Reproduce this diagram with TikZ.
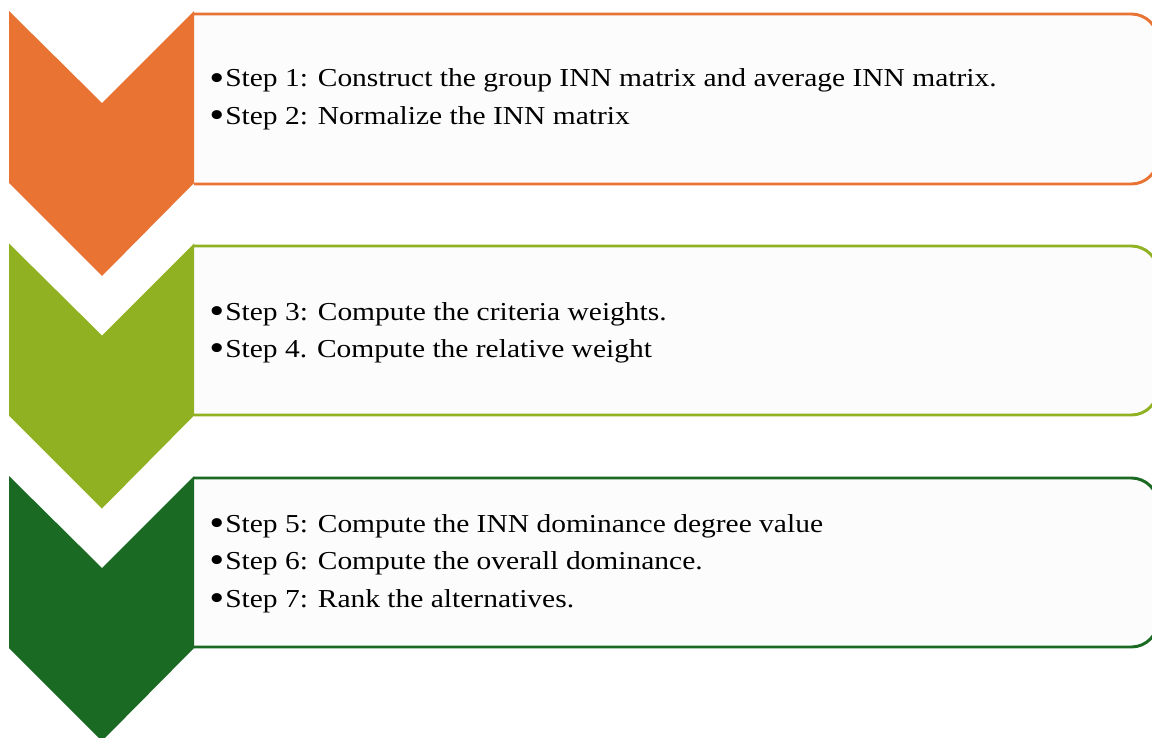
\documentclass[tikz,border=0pt]{standalone}
\usepackage{fontspec}
\setmainfont{Liberation Serif}[FakeStretch=1.14]
\definecolor{cOrange}{RGB}{233,115,51}
\definecolor{cLime}{RGB}{143,177,34}
\definecolor{cDark}{RGB}{27,106,36}
\definecolor{cFill}{RGB}{252,252,252}
\tikzset{
  stepbox/.style={fill=cFill, line width=2.2pt, rounded corners=20pt},
  steptext/.style={anchor=base west, inner sep=0pt, font=\fontsize{19.4}{22}\selectfont, text=black}
}
\newcommand{\bul}{\makebox[12pt][l]{\raisebox{-2.6pt}{\scalebox{1.45}{\textbullet}}}}
\newcommand{\chevron}[2]{% #1 offset, #2 colour
  \fill[#2] (9,11+#1) -- (102,103+#1) -- (194,11+#1) -- (194,183+#1) -- (102,276+#1) -- (9,183+#1) -- cycle;
}
\begin{document}
\begin{tikzpicture}[x=0.75pt,y=-0.75pt]
\useasboundingbox (0,0) rectangle (1152,738);
\clip (0,0) rectangle (1152,738);
\fill[white] (0,0) rectangle (1152,738);
% boxes
\filldraw[stepbox, draw=cOrange] (194,14) -- (1158,14) -- (1158,184) -- (194,184);
\filldraw[stepbox, draw=cLime] (194,246) -- (1158,246) -- (1158,415) -- (194,415);
\filldraw[stepbox, draw=cDark] (194,478) -- (1158,478) -- (1158,647) -- (194,647);
% chevrons
\chevron{0}{cOrange}
\chevron{232.5}{cLime}
\chevron{465}{cDark}
% texts
\node[steptext] (s1) at (209,87) {\bul Step 1: Construct the group INN matrix and average INN matrix.};
\node[steptext] (s2) at (209,124.5) {\bul Step 2: Normalize the INN matrix};
\node[steptext] (s3) at (209,320) {\bul Step 3: Compute the criteria weights.};
\node[steptext] (s4) at (209,357.5) {\bul Step 4. Compute the relative weight};
\node[steptext] (s5) at (209,532) {\bul Step 5: Compute the INN dominance degree value};
\node[steptext] (s6) at (209,569.5) {\bul Step 6: Compute the overall dominance.};
\node[steptext] (s7) at (209,607) {\bul Step 7: Rank the alternatives.};
\end{tikzpicture}
\end{document}
